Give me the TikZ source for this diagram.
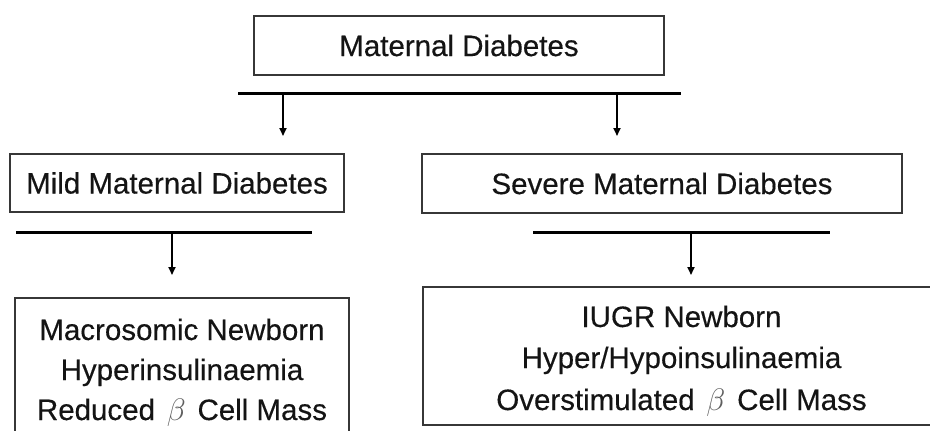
\documentclass[tikz,border=0pt]{standalone}
\usepackage{fontspec}
\setmainfont{Liberation Sans}[FakeBold=0.35]
\usetikzlibrary{arrows.meta}
\definecolor{boxgray}{RGB}{55,55,55}
\definecolor{txt}{RGB}{20,20,20}
\definecolor{betagray}{RGB}{95,95,95}
\newcommand{\bt}{\hspace{0.4em}{\color{betagray}\scalebox{1.25}{$\beta$}}\hspace{0.4em}}
\begin{document}
\begin{tikzpicture}[x=1pt,y=-1pt,
  boxnode/.style={draw=boxgray, line width=2.2pt, inner sep=0pt, outer sep=0pt,
    font=\fontsize{29.5}{40}\selectfont, text=txt},
  txtline/.style={anchor=base, inner sep=0pt, font=\fontsize{29.5}{40}\selectfont, text=txt},
  barline/.style={line width=3pt, black},
  arr/.style={line width=1.8pt, black, -{Triangle[length=8pt,width=7pt]}}]
\useasboundingbox (0,0) rectangle (930,431);
\clip (0,0) rectangle (930,431);
\fill[white] (0,0) rectangle (930,431);
% boxes
\node[boxnode, minimum width=410pt, minimum height=59pt] (top) at (459,45.5) {Maternal Diabetes};
\node[boxnode, minimum width=334pt, minimum height=58pt] (mild) at (177,183) {Mild Maternal Diabetes};
\node[boxnode, minimum width=480pt, minimum height=59pt] (severe) at (662,183.5) {Severe Maternal Diabetes};
\node[boxnode, minimum width=334pt, minimum height=148pt] (macro) at (182,372) {};
\node[boxnode, minimum width=517pt, minimum height=138pt] (iugr) at (681.5,356) {};
% texts in lower boxes
\node[txtline] (m1) at (182,340) {Macrosomic Newborn};
\node[txtline] (m2) at (182,380) {Hyperinsulinaemia};
\node[txtline] (m3) at (182,420) {Reduced\bt Cell Mass};
\node[txtline] (i1) at (681.5,327) {IUGR Newborn};
\node[txtline] (i2) at (681.5,368) {Hyper/Hypoinsulinaemia};
\node[txtline] (i3) at (681.5,410) {Overstimulated\bt Cell Mass};
% bars
\coordinate (b1l) at (238,93.5);
\coordinate (b1r) at (681,93.5);
\coordinate (b2l) at (16,232.5);
\coordinate (b2r) at (312,232.5);
\coordinate (b3l) at (533,232.5);
\coordinate (b3r) at (830,232.5);
\draw[barline] (b1l) -- (b1r);
\draw[barline] (b2l) -- (b2r);
\draw[barline] (b3l) -- (b3r);
% arrows
\coordinate (a1s) at (283,93);  \coordinate (a1e) at (283,136);
\coordinate (a2s) at (617,93);  \coordinate (a2e) at (617,136);
\coordinate (a3s) at (172,232); \coordinate (a3e) at (172,275);
\coordinate (a4s) at (691,232); \coordinate (a4e) at (691,275);
\draw[arr] (a1s) -- (a1e);
\draw[arr] (a2s) -- (a2e);
\draw[arr] (a3s) -- (a3e);
\draw[arr] (a4s) -- (a4e);
\end{tikzpicture}
\end{document}
